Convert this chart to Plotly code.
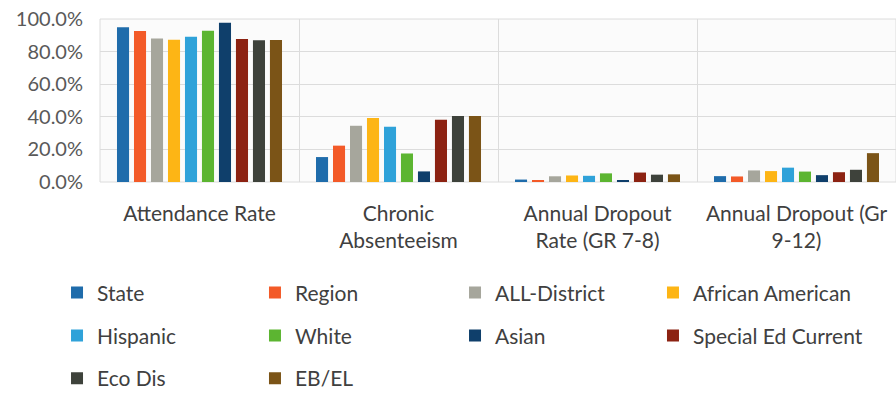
import plotly.graph_objects as go

categories = [
    "Attendance Rate",
    "Chronic<br>Absenteeism",
    "Annual Dropout<br>Rate (GR 7-8)",
    "Annual Dropout (Gr<br>9-12)",
]

groups = ["State", "Region", "ALL-District", "African American", "Hispanic",
          "White", "Asian", "Special Ed Current", "Eco Dis", "EB/EL"]

colors = ["#1f6cab", "#f35a28", "#a6a69c", "#fdb515", "#2fa2d9",
          "#5cb531", "#0f3f6b", "#8c2212", "#3e423b", "#7b5417"]

# Rates per group, in category order (fractions of 1)
state = [0.949, 0.153, 0.015, 0.036]
region = [0.926, 0.223, 0.010, 0.034]
all_district = [0.881, 0.345, 0.035, 0.071]
african_american = [0.873, 0.393, 0.040, 0.067]
hispanic = [0.891, 0.339, 0.038, 0.088]
white = [0.928, 0.175, 0.053, 0.064]
asian = [0.977, 0.065, 0.012, 0.042]
special_ed = [0.877, 0.382, 0.058, 0.060]
eco_dis = [0.869, 0.405, 0.045, 0.075]
eb_el = [0.871, 0.405, 0.047, 0.177]

series = [state, region, all_district, african_american, hispanic,
          white, asian, special_ed, eco_dis, eb_el]

FONT = "Lato, 'Open Sans', sans-serif"

# Legend laid out as four columns; entries fill row by row
legend_cols = ["legend", "legend2", "legend3", "legend4"]
legend_x = [-0.054, 0.1947, 0.446, 0.6947]

fig = go.Figure()
for i, (name, vals, col) in enumerate(zip(groups, series, colors)):
    fig.add_trace(go.Bar(
        x=categories, y=vals, name=name,
        marker=dict(color=col, line=dict(width=0)),
        legend=legend_cols[i % 4],
        legendgroup=name,
    ))

leg_common = dict(
    orientation="v", xanchor="left", yanchor="top", y=-0.555,
    tracegroupgap=12.5,
    font=dict(family=FONT, size=21, color="#404040"),
    bgcolor="rgba(0,0,0,0)", borderwidth=0, itemclick=False,
)

fig.update_layout(
    width=896, height=393,
    margin=dict(l=100, r=0, t=19, b=211, autoexpand=False),
    paper_bgcolor="white",
    plot_bgcolor="#fbfbfb",
    barmode="group",
    bargap=0.146,
    bargroupgap=0.29,
    showlegend=True,
    legend=dict(leg_common, x=legend_x[0]),
    legend2=dict(leg_common, x=legend_x[1]),
    legend3=dict(leg_common, x=legend_x[2]),
    legend4=dict(leg_common, x=legend_x[3]),
    xaxis=dict(
        type="category",
        tickson="boundaries",
        showgrid=True, gridcolor="#dcdcdc", gridwidth=1,
        showline=False, zeroline=False, ticks="",
        ticklabelstandoff=17,
        tickfont=dict(family=FONT, size=21, color="#404040"),
    ),
    yaxis=dict(
        range=[0, 1.0], dtick=0.2, tickformat=".1%",
        showgrid=True, gridcolor="#dcdcdc", gridwidth=1,
        zeroline=False, showline=False,
        ticklabelstandoff=16,
        tickfont=dict(family=FONT, size=20, color="#595959"),
    ),
)

fig.add_shape(type="rect", xref="paper", yref="paper", x0=0, x1=1, y0=0, y1=1,
              line=dict(color="#dcdcdc", width=1), layer="below")

fig.write_html("out.html")
